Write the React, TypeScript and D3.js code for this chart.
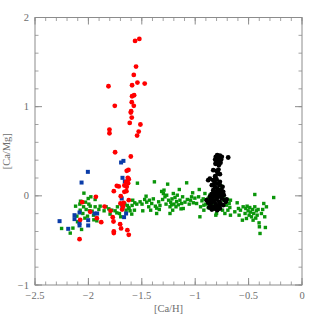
import React from "react";
import * as d3 from "d3";

// [Ca/H], [Ca/Mg] pairs
const redX = [-1.523,-1.563,-1.554,-1.575,-1.541,-1.473,-1.812,-1.591,-1.572,-1.591,-1.594,-1.753,-1.575,-1.600,-1.603,-1.594,-1.613,-1.513,-1.803,-1.803,-1.529,-1.544,-1.750,-1.603,-1.641,-1.625,-1.631,-1.622,-1.647,-1.628,-1.734,-1.716,-1.663,-1.641,-1.762,-1.663,-1.644,-1.697,-1.930,-1.983,-2.058,-1.849,-1.793,-1.669,-1.684,-1.622,-1.921,-1.880,-2.077,-1.772,-1.765,-1.703,-1.762,-1.762,-1.694,-1.635,-1.622,-2.083,-1.675,-1.700];
const redY = [1.760,1.737,1.450,1.356,1.270,1.259,1.229,1.240,1.128,1.117,1.050,1.009,1.009,0.949,0.934,0.878,0.818,0.800,0.743,0.702,0.721,0.676,0.489,0.441,0.280,0.291,0.202,0.187,0.157,0.142,0.112,0.105,0.116,0.101,0.052,0.045,0.052,-0.004,-0.011,-0.179,-0.071,-0.120,-0.168,-0.078,-0.153,-0.049,-0.250,-0.295,-0.269,-0.239,-0.288,-0.318,-0.400,-0.418,-0.366,-0.385,-0.437,-0.486,-0.120,-0.086];

const blueX = [-2.005,-2.064,-1.672,-1.694,-1.681,-1.659,-1.688,-1.647,-1.666,-2.270,-2.189,-2.130,-2.130,-2.083,-2.083,-2.083,-2.002,-2.002,-1.943,-1.918,-1.681];
const blueY = [0.269,0.149,0.392,0.374,0.202,0.161,-0.030,-0.198,-0.239,-0.284,-0.370,-0.217,-0.261,-0.187,-0.303,-0.332,-0.273,-0.332,-0.198,-0.198,-0.131];

const greenX = [-2.251,-2.170,-2.145,-2.064,-2.042,-2.074,-2.027,-1.996,-1.977,-1.937,-2.045,-2.021,-1.989,-1.965,-2.008,-2.033,-1.949,-2.108,-2.102,-1.921,-2.052,-2.077,-2.120,-1.937,-1.902,-1.890,-2.002,-1.952,-2.080,-1.983,
-1.834,-1.809,-1.781,-1.750,-1.728,-1.709,-1.684,-1.659,-1.635,-1.619,-1.610,-1.594,-1.591,-1.585,-1.566,-1.853,-1.797,-1.734,-1.697,-1.647,-1.569,-1.547,-1.541,-1.625,
-1.516,-1.498,-1.473,-1.454,-1.435,-1.417,-1.407,-1.392,-1.382,-1.373,-1.361,-1.342,-1.330,-1.314,-1.305,-1.298,-1.292,-1.283,-1.273,-1.267,-1.258,-1.249,-1.236,-1.230,-1.217,-1.211,-1.199,-1.189,-1.180,-1.174,-1.168,-1.158,-1.149,-1.143,-1.127,-1.118,-1.112,-1.096,-1.080,-1.074,-1.056,-1.043,-1.034,-1.024,-1.018,-1.003,-0.987,-0.968,-0.962,-0.956,-0.950,-0.937,-0.925,-0.919,-0.909,-0.900,-0.887,-0.878,-1.491,-1.460,-1.429,-1.361,-1.336,-1.236,-1.221,-1.205,-1.133,
-0.863,-0.844,-0.831,-0.816,-0.800,-0.785,-0.769,-0.754,-0.744,-0.732,-0.722,-0.707,-0.694,-0.682,-0.676,-0.807,-0.878,-0.919,-0.831,-0.738,-0.698,-0.670,
-0.670,-0.607,-0.595,-0.589,-0.558,-0.533,-0.526,-0.514,-0.505,-0.495,-0.489,-0.483,-0.473,-0.464,-0.458,-0.452,-0.442,-0.433,-0.427,-0.420,-0.411,-0.402,-0.399,-0.393,-0.380,-0.368,-0.358,-0.349,-0.343,-0.333,-0.442,-0.265,-0.629,-0.576,-0.551,-0.520];
const greenY = [-0.366,-0.418,-0.362,-0.377,0.030,-0.060,-0.071,-0.093,-0.011,-0.041,-0.123,-0.153,-0.168,-0.172,-0.228,-0.250,-0.269,-0.228,-0.291,-0.280,-0.198,-0.161,-0.116,-0.123,-0.153,-0.116,-0.030,-0.217,-0.093,-0.116,
-0.123,-0.146,-0.161,-0.168,-0.123,-0.198,-0.108,-0.093,-0.108,-0.142,-0.168,-0.205,-0.108,-0.049,-0.078,-0.168,-0.205,-0.191,-0.235,-0.161,-0.161,-0.093,0.142,-0.131,
-0.067,-0.093,-0.041,-0.071,-0.123,-0.161,-0.086,-0.034,0.157,-0.116,-0.138,-0.067,-0.108,0.049,-0.041,0.026,0.064,-0.011,-0.093,0.007,0.131,-0.049,-0.123,-0.071,-0.034,-0.161,-0.093,-0.019,-0.123,-0.064,0.007,-0.101,0.071,-0.049,-0.086,-0.011,-0.142,-0.071,0.146,-0.041,-0.093,-0.049,-0.011,0.034,-0.078,-0.026,-0.086,-0.011,0.071,-0.235,-0.123,-0.056,-0.034,-0.161,0.026,-0.093,-0.041,-0.131,-0.168,-0.004,-0.049,-0.198,-0.153,-0.198,-0.101,0.026,-0.146,
0.007,-0.093,-0.041,-0.142,-0.198,0.026,-0.078,0.108,-0.161,-0.049,-0.198,-0.105,-0.161,-0.086,-0.131,-0.217,-0.030,-0.105,0.045,-0.019,-0.041,-0.049,
-0.217,-0.078,-0.142,-0.217,-0.273,-0.198,-0.142,-0.116,-0.168,-0.217,-0.131,-0.183,-0.235,-0.153,-0.273,-0.198,-0.123,-0.250,-0.168,-0.217,-0.153,-0.303,-0.347,-0.422,-0.198,-0.153,-0.086,-0.235,-0.355,-0.123,0.015,-0.019,-0.179,-0.161,-0.123,-0.254];

const blackX = [-0.807,-0.794,-0.782,-0.769,-0.757,-0.800,-0.775,-0.791,-0.763,-0.691,-0.813,-0.751,-0.779,-0.831,-0.800,-0.782,-0.788,-0.769,-0.863,-0.878,-0.831,-0.800,-0.769,-0.813,-0.844,-0.816,-0.794,-0.769,-0.744,-0.831,-0.807,-0.785,-0.757,-0.732,-0.863,-0.847,-0.825,-0.800,-0.775,-0.751,-0.722,-0.878,-0.856,-0.831,-0.807,-0.785,-0.763,-0.738,-0.713,-0.893,-0.869,-0.844,-0.816,-0.794,-0.769,-0.831,-0.810,-0.785,-0.760,-0.819,-0.794,-0.775,-0.754,-0.738,-0.847,-0.707,-0.820,-0.800,-0.790,-0.840,-0.810,-0.770,-0.830,-0.860,-0.800,-0.780,-0.810,-0.790,-0.810];
const blackY = [0.437,0.456,0.430,0.452,0.407,0.392,0.377,0.362,0.370,0.430,0.407,0.437,0.344,0.288,0.280,0.295,0.250,0.243,0.194,0.176,0.176,0.183,0.157,0.220,0.120,0.101,0.082,0.120,0.101,0.064,0.045,0.026,0.034,0.007,-0.011,-0.041,-0.056,-0.041,-0.067,-0.030,-0.049,-0.078,-0.105,-0.123,-0.093,-0.116,-0.086,-0.105,-0.067,-0.049,-0.131,-0.153,-0.142,-0.161,-0.142,-0.011,0.007,-0.011,0.007,0.146,0.138,0.064,0.064,0.045,0.019,-0.041,0.000,-0.020,0.050,-0.070,-0.120,-0.100,0.030,-0.060,0.400,0.390,0.360,0.270,0.200];

const xTicks = [-2.5, -2, -1.5, -1, -0.5, 0];
const yTicks = [-1, 0, 1, 2];

const W = 319, H = 319;
const L = 35, R = 302, T = 17.5, B = 285;
const AX = "#8c8c8c";
const TXT = "#6e6e6e";
const FONT = "'Liberation Serif', 'DejaVu Serif', serif";

const fmt = (v: number) => (v < 0 ? "\u2212" + String(Math.abs(v)) : String(v));

export default function App() {
  const x = d3.scaleLinear().domain([-2.5, 0]).range([L, R]);
  const y = d3.scaleLinear().domain([-1, 2]).range([B, T]);
  const xMinor = d3.range(-2.5, 0.0001, 0.1).map((v) => +v.toFixed(2));
  const yMinor = d3.range(-1, 2.0001, 0.2).map((v) => +v.toFixed(2));
  const maj = 7, mnr = 3.5;
  const pts = (xs: number[], ys: number[]) => xs.map((v, i) => [v, ys[i]] as [number, number]);

  return (
    <div style={{ position: "fixed", left: 0, top: 0 }}>
      <svg width={W} height={H} style={{ display: "block", background: "#fff" }}>
        <rect x={L} y={T} width={R - L} height={B - T} fill="none" stroke={AX} strokeWidth={1} />
        {xMinor.map((v, i) => (
          <g key={"xm" + i} stroke={AX} strokeWidth={0.8}>
            <line x1={x(v)} x2={x(v)} y1={B} y2={B - mnr} />
            <line x1={x(v)} x2={x(v)} y1={T} y2={T + mnr} />
          </g>
        ))}
        {yMinor.map((v, i) => (
          <g key={"ym" + i} stroke={AX} strokeWidth={0.8}>
            <line x1={L} x2={L + mnr} y1={y(v)} y2={y(v)} />
            <line x1={R} x2={R - mnr} y1={y(v)} y2={y(v)} />
          </g>
        ))}
        {xTicks.map((v, i) => (
          <g key={"xt" + i}>
            <line x1={x(v)} x2={x(v)} y1={B} y2={B - maj} stroke={AX} />
            <line x1={x(v)} x2={x(v)} y1={T} y2={T + maj} stroke={AX} />
            <text x={x(v)} y={B + 14} textAnchor="middle" fontSize={10.5} fill={TXT} fontFamily={FONT}>{fmt(v)}</text>
          </g>
        ))}
        {yTicks.map((v, i) => (
          <g key={"yt" + i}>
            <line x1={L} x2={L + maj} y1={y(v)} y2={y(v)} stroke={AX} />
            <line x1={R} x2={R - maj} y1={y(v)} y2={y(v)} stroke={AX} />
            <text x={L - 6} y={y(v) + 3.5} textAnchor="end" fontSize={10.5} fill={TXT} fontFamily={FONT}>{fmt(v)}</text>
          </g>
        ))}
        <text x={(L + R) / 2} y={312} textAnchor="middle" fontSize={10.5} fill={TXT} fontFamily={FONT}>[Ca/H]</text>
        <text transform={`translate(10,${(T + B) / 2}) rotate(-90)`} textAnchor="middle" fontSize={10.5} fill={TXT} fontFamily={FONT}>[Ca/Mg]</text>

        {pts(greenX, greenY).map(([a, b], i) => (
          <rect key={"g" + i} x={x(a) - 1.7} y={y(b) - 1.7} width={3.4} height={3.4} fill="#0a960a" />
        ))}
        {pts(blueX, blueY).map(([a, b], i) => (
          <rect key={"b" + i} x={x(a) - 2} y={y(b) - 2} width={4} height={4} fill="#0a3ca8" />
        ))}
        {pts(redX, redY).map(([a, b], i) => (
          <circle key={"r" + i} cx={x(a)} cy={y(b)} r={2.4} fill="#ff0000" />
        ))}
        {pts(blackX, blackY).map(([a, b], i) => (
          <circle key={"k" + i} cx={x(a)} cy={y(b)} r={2.4} fill="#000" />
        ))}
      </svg>
    </div>
  );
}
